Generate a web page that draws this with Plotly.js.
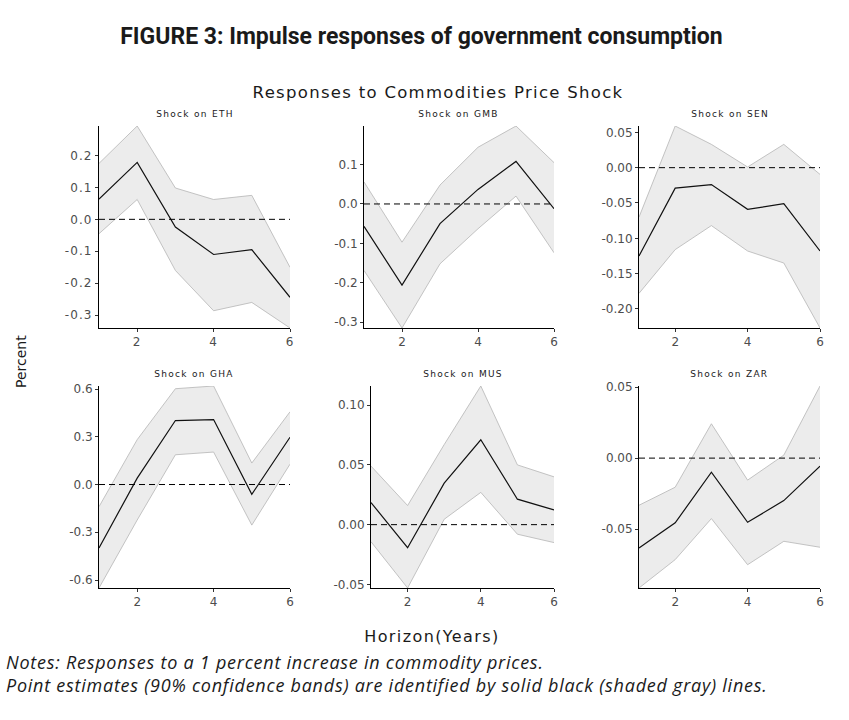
<!DOCTYPE html>
<html>
<head>
<meta charset="utf-8">
<script src="https://cdn.plot.ly/plotly-3.0.1.min.js"></script>
<style>
  body { margin: 0; background: #fff; }
  #chart { width: 849px; height: 720px; }
  .xtick text, .ytick text { letter-spacing: 1.1px; }
  .annotation[data-index="0"] text { letter-spacing: 1.3px; }
  .annotation[data-index="1"] text, .annotation[data-index="2"] text,
  .annotation[data-index="3"] text, .annotation[data-index="4"] text,
  .annotation[data-index="5"] text, .annotation[data-index="6"] text { letter-spacing: 1.3px; }
  .annotation[data-index="8"] text { letter-spacing: 1.4px; }
  .annotation[data-index="9"] text { letter-spacing: 0.75px; }
</style>
</head>
<body>
<div id="chart"></div>
<script>
// Horizon (years)
const horizon = [1, 2, 3, 4, 5, 6];
const xTickVals = [2, 4, 6];
const xTickText = ['2', '4', '6'];

const countries = ['ETH', 'GMB', 'SEN', 'GHA', 'MUS', 'ZAR'];

// Point estimates
const pointETH = [0.063, 0.178, -0.024, -0.110, -0.095, -0.244];
const pointGMB = [-0.057, -0.206, -0.050, 0.037, 0.108, -0.012];
const pointSEN = [-0.125, -0.029, -0.024, -0.059, -0.051, -0.118];
const pointGHA = [-0.398, 0.040, 0.402, 0.408, -0.061, 0.297];
const pointMUS = [0.0185, -0.0193, 0.0347, 0.071, 0.0213, 0.0123];
const pointZAR = [-0.0633, -0.0456, -0.0099, -0.0452, -0.0299, -0.0056];

// Upper 90% band
const upperETH = [0.175, 0.292, 0.098, 0.062, 0.075, -0.150];
const upperGMB = [0.056, -0.097, 0.048, 0.144, 0.198, 0.105];
const upperSEN = [-0.070, 0.059, 0.033, 0.001, 0.033, -0.0095];
const upperGHA = [-0.139, 0.282, 0.602, 0.619, 0.135, 0.457];
const upperMUS = [0.049, 0.016, 0.067, 0.116, 0.050, 0.040];
const upperZAR = [-0.0332, -0.0205, 0.0242, -0.0155, 0.0021, 0.0508];

// Lower 90% band
const lowerETH = [-0.045, 0.062, -0.160, -0.286, -0.260, -0.340];
const lowerGMB = [-0.169, -0.315, -0.152, -0.063, 0.020, -0.124];
const lowerSEN = [-0.178, -0.116, -0.082, -0.118, -0.135, -0.227];
const lowerGHA = [-0.650, -0.223, 0.187, 0.204, -0.255, 0.128];
const lowerMUS = [-0.0143, -0.053, 0.0045, 0.027, -0.008, -0.015];
const lowerZAR = [-0.0915, -0.0715, -0.0426, -0.0751, -0.0586, -0.0628];

// Y tick values and labels
const yTickVals1 = [0.2, 0.1, 0.0, -0.1, -0.2, -0.3];
const yTickText1 = ['0.2', '0.1', '0.0', '-0.1', '-0.2', '-0.3'];
const yTickVals2 = [0.1, 0.0, -0.1, -0.2, -0.3];
const yTickText2 = ['0.1', '0.0', '-0.1', '-0.2', '-0.3'];
const yTickVals3 = [0.05, 0.0, -0.05, -0.10, -0.15, -0.20];
const yTickText3 = ['0.05', '0.00', '-0.05', '-0.10', '-0.15', '-0.20'];
const yTickVals4 = [0.6, 0.3, 0.0, -0.3, -0.6];
const yTickText4 = ['0.6', '0.3', '0.0', '-0.3', '-0.6'];
const yTickVals5 = [0.10, 0.05, 0.0, -0.05];
const yTickText5 = ['0.10', '0.05', '0.00', '-0.05'];
const yTickVals6 = [0.05, 0.0, -0.05];
const yTickText6 = ['0.05', '0.00', '-0.05'];

const points = [pointETH, pointGMB, pointSEN, pointGHA, pointMUS, pointZAR];
const uppers = [upperETH, upperGMB, upperSEN, upperGHA, upperMUS, upperZAR];
const lowers = [lowerETH, lowerGMB, lowerSEN, lowerGHA, lowerMUS, lowerZAR];
const yVals = [yTickVals1, yTickVals2, yTickVals3, yTickVals4, yTickVals5, yTickVals6];
const yTexts = [yTickText1, yTickText2, yTickText3, yTickText4, yTickText5, yTickText6];

// Panel placement (pixels in the 849x720 page)
const W = 849, H = 720;
const panelX = [[99, 290], [364, 554], [639, 820], [99, 290], [371, 554], [639, 820]];
const panelY = [[126, 328], [126, 328], [126, 328], [386, 588], [386, 588], [386, 588]];

const tickFont = { family: 'DejaVu Sans', size: 12, color: '#4d4d4d' };

const traces = [];
const layout = {
  width: W, height: H,
  margin: { l: 0, r: 0, t: 0, b: 0 },
  paper_bgcolor: '#ffffff',
  plot_bgcolor: 'rgba(0,0,0,0)',
  showlegend: false,
  title: {
    text: '<b>FIGURE 3: Impulse responses of government consumption</b>',
    font: { family: 'Roboto', size: 23, color: '#1a1a1a' },
    x: 421.5 / W, xanchor: 'center', xref: 'paper',
    y: 1 - 36 / H, yanchor: 'middle', yref: 'container'
  },
  shapes: [],
  annotations: [
    { text: 'Responses to Commodities Price Shock', x: 438 / W, y: 1 - 93 / H,
      xref: 'paper', yref: 'paper', xanchor: 'center', yanchor: 'middle', showarrow: false,
      font: { family: 'DejaVu Sans', size: 16.5, color: '#1a1a1a' } }
  ]
};

for (let i = 0; i < 6; i++) {
  const sfx = i === 0 ? '' : String(i + 1);
  const xa = 'x' + sfx, ya = 'y' + sfx;
  const lo = lowers[i], up = uppers[i], pt = points[i];
  const ymin = Math.min(...lo), ymax = Math.max(...up);

  traces.push({ x: horizon, y: lo, xaxis: xa, yaxis: ya, type: 'scatter', mode: 'lines',
    line: { color: '#b5b5b5', width: 0.8 }, hoverinfo: 'skip', cliponaxis: false });
  traces.push({ x: horizon, y: up, xaxis: xa, yaxis: ya, type: 'scatter', mode: 'lines',
    fill: 'tonexty', fillcolor: '#ececec',
    line: { color: '#b5b5b5', width: 0.8 }, hoverinfo: 'skip', cliponaxis: false });
  traces.push({ x: horizon, y: pt, xaxis: xa, yaxis: ya, type: 'scatter', mode: 'lines',
    line: { color: '#111111', width: 1.2 }, cliponaxis: false });

  const xKey = 'xaxis' + sfx, yKey = 'yaxis' + sfx;
  layout[xKey] = {
    domain: [panelX[i][0] / W, panelX[i][1] / W],
    anchor: ya, range: [horizon[0], horizon[horizon.length - 1]],
    tickmode: 'array', tickvals: xTickVals, ticktext: xTickText,
    ticks: 'outside', ticklen: 3, tickcolor: '#333333', tickwidth: 1,
    showline: true, linecolor: '#000000', linewidth: 1,
    showgrid: false, zeroline: false, tickfont: tickFont, fixedrange: true
  };
  layout[yKey] = {
    domain: [1 - panelY[i][1] / H, 1 - panelY[i][0] / H],
    anchor: xa, range: [ymin, ymax],
    tickmode: 'array', tickvals: yVals[i], ticktext: yTexts[i],
    ticks: 'outside', ticklen: 3, tickcolor: '#333333', tickwidth: 1,
    showline: true, linecolor: '#000000', linewidth: 1,
    showgrid: false, zeroline: false, tickfont: tickFont, fixedrange: true
  };

  layout.shapes.push({ type: 'line', xref: xa + ' domain', yref: ya,
    x0: 0, x1: 1, y0: 0, y1: 0, layer: 'above',
    line: { color: '#000000', width: 1, dash: '6px,4px' } });

  layout.annotations.push({ text: 'Shock on ' + countries[i],
    x: (panelX[i][0] + panelX[i][1]) / 2 / W, y: 1 - (panelY[i][0] - 12) / H,
    xref: 'paper', yref: 'paper', xanchor: 'center', yanchor: 'middle', showarrow: false,
    font: { family: 'DejaVu Sans', size: 9, color: '#1a1a1a' } });
}

layout.annotations.push({ text: 'Percent', x: 21 / W, y: 1 - 362 / H, xref: 'paper', yref: 'paper',
  xanchor: 'center', yanchor: 'middle', showarrow: false, textangle: -90,
  font: { family: 'DejaVu Sans', size: 14, color: '#1a1a1a' } });
layout.annotations.push({ text: 'Horizon(Years)', x: 432 / W, y: 1 - 636 / H, xref: 'paper', yref: 'paper',
  xanchor: 'center', yanchor: 'middle', showarrow: false,
  font: { family: 'DejaVu Sans', size: 16, color: '#1a1a1a' } });
layout.annotations.push({
  text: '<i>Notes: Responses to a 1 percent increase in commodity prices.</i><br><i>Point estimates (90% confidence bands) are identified by solid black (shaded gray) lines.</i>',
  x: 4 / W, y: 1 - 673 / H, xref: 'paper', yref: 'paper', xanchor: 'left', yanchor: 'middle',
  align: 'left', showarrow: false,
  font: { family: 'Open Sans', size: 18, color: '#1a1a1a' } });

Plotly.newPlot('chart', traces, layout, { staticPlot: true, displayModeBar: false });
</script>
</body>
</html>
